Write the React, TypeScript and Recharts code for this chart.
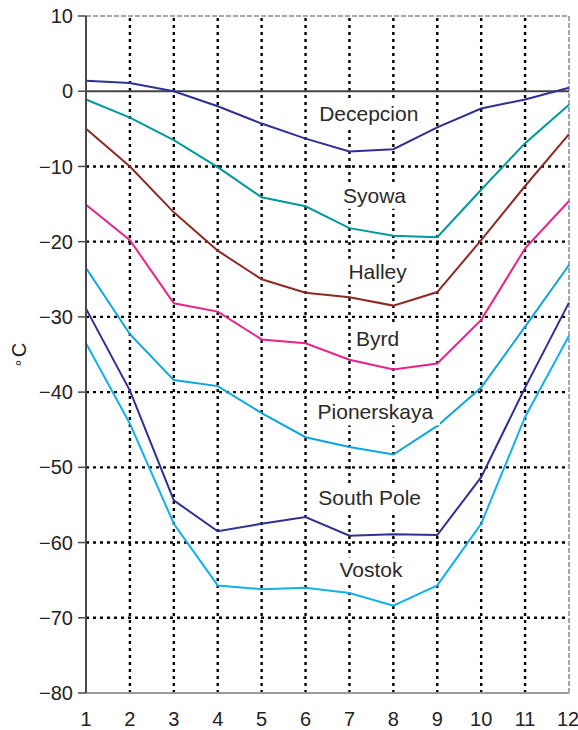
import { LineChart, Line, XAxis, YAxis, ReferenceLine, ReferenceDot } from "recharts";

const months = [1, 2, 3, 4, 5, 6, 7, 8, 9, 10, 11, 12];
const yTicks = [-80, -70, -60, -50, -40, -30, -20, -10, 0, 10];
const innerX = [2, 3, 4, 5, 6, 7, 8, 9, 10, 11];
const innerY = [-70, -60, -50, -40, -30, -20, -10];

const decepcion = [1.4, 1.1, 0.0, -2.0, -4.3, -6.3, -8.0, -7.7, -4.8, -2.3, -1.1, 0.45];
const syowa = [-1.1, -3.5, -6.5, -10.1, -14.1, -15.3, -18.2, -19.2, -19.4, -13.1, -6.9, -1.8];
const halley = [-5.0, -10.0, -16.1, -21.2, -25.0, -26.8, -27.4, -28.5, -26.7, -19.8, -12.6, -5.7];
const byrd = [-15.1, -19.8, -28.2, -29.3, -33.0, -33.5, -35.7, -37.0, -36.2, -30.4, -20.9, -14.6];
const pionerskaya = [-23.5, -32.3, -38.4, -39.2, -42.8, -46.0, -47.3, -48.3, -44.5, -39.4, -31.3, -23.1];
const southPole = [-28.9, -39.8, -54.4, -58.5, -57.5, -56.6, -59.1, -58.9, -59.0, -51.3, -39.4, -28.1];
const vostok = [-33.5, -44.2, -57.5, -65.7, -66.2, -66.0, -66.7, -68.4, -65.7, -57.5, -43.3, -32.5];

// station name, colour, label position (month, °C)
const stations = [
  { key: "decepcion", name: "Decepcion", color: "#2e3192", values: decepcion, lx: 7.44, ly: -3.0 },
  { key: "syowa", name: "Syowa", color: "#00999a", values: syowa, lx: 7.57, ly: -13.9 },
  { key: "halley", name: "Halley", color: "#8c2a24", values: halley, lx: 7.64, ly: -24.0 },
  { key: "byrd", name: "Byrd", color: "#e8238a", values: byrd, lx: 7.64, ly: -32.9 },
  { key: "pionerskaya", name: "Pionerskaya", color: "#0ca6dc", values: pionerskaya, lx: 7.59, ly: -42.7 },
  { key: "southPole", name: "South Pole", color: "#2e3192", values: southPole, lx: 7.46, ly: -54.1 },
  { key: "vostok", name: "Vostok", color: "#12b1ea", values: vostok, lx: 7.49, ly: -63.7 },
];

const chartData = months.map((m, i) => {
  const row: Record<string, number> = { month: m };
  stations.forEach((s) => (row[s.key] = s.values[i]));
  return row;
});

const FONT = "'Liberation Sans', Arial, Helvetica, sans-serif";

const fmt = (v: number) => (v < 0 ? "\u2212" + Math.abs(v) : String(v));

function StationLabel(text: string) {
  return (props: any) => {
    const { cx, cy } = props;
    const w = text.length * 11 + 8;
    return (
      <g>
        <rect x={cx - w / 2} y={cy - 13} width={w} height={26} fill="#fff" />
        <text x={cx} y={cy} dy={7} textAnchor="middle" fontSize={21} fill="#2a2a2a" fontFamily={FONT}>
          {text}
        </text>
      </g>
    );
  };
}

export default function App() {
  return (
    <div style={{ position: "absolute", left: 0, top: 0, width: 578, height: 730, background: "#fff" }}>
      <LineChart width={578} height={730} data={chartData} margin={{ top: 16, right: 9, bottom: 0, left: 0 }}>
        <XAxis
          dataKey="month"
          type="number"
          domain={[1, 12]}
          ticks={months}
          tickLine={false}
          tickSize={0}
          tickMargin={19}
          height={37}
          axisLine={{ stroke: "#9a9a9a", strokeWidth: 2 }}
          tick={{ fontSize: 20, fill: "#222", fontFamily: FONT }}
        />
        <YAxis
          type="number"
          domain={[-80, 10]}
          ticks={yTicks}
          width={86}
          tickSize={8}
          tickMargin={5}
          tickFormatter={fmt}
          axisLine={{ stroke: "#4a4a4a", strokeWidth: 2 }}
          tickLine={{ stroke: "#4a4a4a", strokeWidth: 1.5 }}
          tick={{ fontSize: 20, fill: "#222", fontFamily: FONT }}
        />
        {innerX.map((m) => (
          <ReferenceLine key={"vx" + m} x={m} stroke="#000" strokeWidth={2.4} strokeDasharray="3 4" />
        ))}
        {innerY.map((v) => (
          <ReferenceLine key={"hy" + v} y={v} stroke="#000" strokeWidth={2.4} strokeDasharray="3 4" />
        ))}
        <ReferenceLine y={10} stroke="#a3a8ad" strokeWidth={2} strokeDasharray="5 2" />
        <ReferenceLine x={12} stroke="#a3a8ad" strokeWidth={2} strokeDasharray="5 2" />
        <ReferenceLine y={0} stroke="#444" strokeWidth={2} />
        {stations.map((s) => (
          <ReferenceDot key={"l" + s.key} x={s.lx} y={s.ly} r={0} shape={StationLabel(s.name)} />
        ))}
        {stations.map((s) => (
          <Line
            key={s.key}
            dataKey={s.key}
            type="linear"
            stroke={s.color}
            strokeWidth={2}
            dot={false}
            isAnimationActive={false}
          />
        ))}
      </LineChart>
      <svg width={40} height={730} style={{ position: "absolute", left: 0, top: 0 }}>
        <text x={26} y={350} textAnchor="middle" transform="rotate(-90 26 350)" fontSize={20} fill="#222" fontFamily={FONT}>
          C
        </text>
        <text x={28} y={363} textAnchor="middle" transform="rotate(-90 28 363)" fontSize={16} fill="#222" fontFamily={FONT}>
          °
        </text>
      </svg>
    </div>
  );
}
